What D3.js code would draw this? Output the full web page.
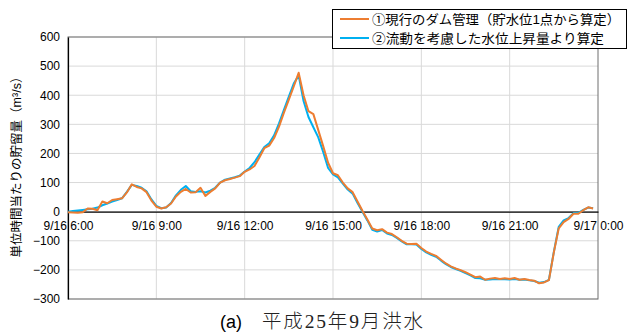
<!DOCTYPE html>
<html>
<head>
<meta charset="utf-8">
<script src="https://cdn.jsdelivr.net/npm/d3@7"></script>
<style>
  html, body { margin: 0; padding: 0; background: #fff; }
  svg { display: block; }
  text { font-family: "Liberation Sans", "Noto Sans CJK JP", sans-serif; }
</style>
</head>
<body>
<svg id="chart" width="628" height="335"></svg>
<script>
// Storage per unit time, 10-minute steps from 9/16 6:00
const startTime = new Date(2013, 8, 16, 6, 0);
const stepMinutes = 10;

// ① current dam operation (from a single reservoir level)
const seriesCurrent = [
  -2, -3, -4, -2, 11, 10, 5, 35, 29, 40, 43, 46, 66, 94, 85, 80, 67, 38,
  17, 11, 15, 28, 52, 68, 78, 66, 67, 82, 54, 68, 80, 100, 108, 112, 117, 122,
  137, 145, 157, 186, 218, 227, 253, 292, 340, 385, 430, 477, 400, 345, 335, 280, 225, 168,
  132, 125, 100, 80, 67, 35, 3, -27, -58, -64, -60, -72, -77, -88, -100, -110, -111, -110,
  -125, -137, -145, -152, -165, -178, -188, -195, -201, -208, -216, -225, -223, -234, -230, -228, -231, -229,
  -231, -228, -234, -231, -235, -237, -246, -243, -235, -140, -57, -36, -25, -7, -7, 5, 15, 11
];

// ② from the water-level rise accounting for flow
const seriesFlow = [
  0, 2, 4, 6, 8, 10, 14, 22, 28, 35, 40, 46, 68, 92, 88, 82, 70, 42,
  20, 12, 14, 30, 56, 75, 88, 70, 68, 70, 66, 72, 82, 100, 110, 114, 118, 124,
  138, 150, 170, 196, 222, 235, 262, 303, 350, 395, 440, 468, 380, 325, 290, 255, 205, 150,
  128, 118, 96, 76, 62, 30, 0, -30, -62, -68, -63, -75, -80, -90, -102, -112, -112, -113,
  -128, -140, -148, -155, -168, -180, -190, -197, -203, -211, -219, -228, -229, -234, -233, -231, -232, -232,
  -233, -231, -234, -233, -236, -238, -244, -242, -234, -138, -52, -30, -22, -5, -4, 6, 14, 12
];

const yTicks = [-300, -200, -100, 0, 100, 200, 300, 400, 500, 600];
const xTickHours = [6, 9, 12, 15, 18, 21, 24];
const legendLabels = ["①現行のダム管理（貯水位1点から算定）", "②流動を考慮した水位上昇量より算定"];
const yTitle = "単位時間当たりの貯留量（m³/s）";
const captionTag = "(a)";
const captionParts = ["平成", "25", "年", "9", "月洪水"];

const colors = ["#ED7D31", "#00B0F0"];

const svg = d3.select("#chart");
const plot = { left: 68, right: 598, top: 37, bottom: 299 };

const timeAt = i => new Date(startTime.getTime() + i * stepMinutes * 60000);
const tickTimes = xTickHours.map(h => new Date(2013, 8, 16, h, 0));

const x = d3.scaleTime()
  .domain([tickTimes[0], tickTimes[tickTimes.length - 1]])
  .range([plot.left, plot.right]);
const y = d3.scaleLinear().domain([-300, 600]).range([plot.bottom, plot.top]);

// gridlines
const grid = svg.append("g");
grid.selectAll("line.h").data(yTicks).join("line")
  .attr("x1", plot.left).attr("x2", plot.right)
  .attr("y1", d => y(d)).attr("y2", d => y(d))
  .attr("stroke", "#D9D9D9").attr("stroke-width", 1);
grid.selectAll("line.v").data(tickTimes.slice(1, -1)).join("line")
  .attr("x1", d => x(d)).attr("x2", d => x(d))
  .attr("y1", plot.top).attr("y2", plot.bottom)
  .attr("stroke", "#D9D9D9").attr("stroke-width", 1);

// plot frame
svg.append("rect")
  .attr("x", plot.left).attr("y", plot.top)
  .attr("width", plot.right - plot.left).attr("height", plot.bottom - plot.top)
  .attr("fill", "none").attr("stroke", "#6E6E6E").attr("stroke-width", 1);

// y axis
const yAxis = svg.append("g")
  .attr("transform", `translate(${plot.left},0)`)
  .call(d3.axisLeft(y).tickValues(yTicks).tickSize(0).tickPadding(8).tickFormat(d3.format("d")));
yAxis.select(".domain").attr("stroke", "#000").attr("stroke-width", 1.2);
yAxis.selectAll("text").attr("font-size", 12).attr("fill", "#000")
  .attr("font-family", "Liberation Sans, sans-serif");

// x axis on the zero line
const fmt = d => d.getHours() === 0
  ? `${d.getMonth() + 1}/${d.getDate()} 0:00`
  : `${d.getMonth() + 1}/${d.getDate()} ${d.getHours()}:00`;
const xAxis = svg.append("g")
  .attr("transform", `translate(0,${y(0)})`)
  .call(d3.axisBottom(x).tickValues(tickTimes).tickSize(0).tickPadding(10).tickFormat(fmt));
xAxis.select(".domain").attr("stroke", "#000").attr("stroke-width", 1.2);
xAxis.selectAll("text").attr("font-size", 12).attr("fill", "#000")
  .attr("font-family", "Liberation Sans, sans-serif");

// series lines
const line = d3.line().x((d, i) => x(timeAt(i))).y(d => y(d));
[seriesFlow, seriesCurrent].forEach((s, k) => {
  svg.append("path").datum(s)
    .attr("d", line)
    .attr("fill", "none")
    .attr("stroke", k === 0 ? colors[1] : colors[0])
    .attr("stroke-width", 2)
    .attr("stroke-linejoin", "round");
});

// y axis title
svg.append("text")
  .attr("transform", `translate(21,${(plot.top + plot.bottom) / 2 - 4}) rotate(-90)`)
  .attr("text-anchor", "middle")
  .attr("font-family", "Noto Sans CJK JP, sans-serif")
  .attr("font-size", 12.5)
  .attr("fill", "#000")
  .text(yTitle);

// legend
const lg = svg.append("g");
lg.append("rect")
  .attr("x", 332.5).attr("y", 9.5).attr("width", 294).attr("height", 39)
  .attr("fill", "#fff").attr("stroke", "#000").attr("stroke-width", 1);
const rowY = [19, 38];
const legendWidths = [248, 232];
legendLabels.forEach((t, i) => {
  lg.append("line")
    .attr("x1", 340).attr("x2", 369)
    .attr("y1", rowY[i]).attr("y2", rowY[i])
    .attr("stroke", colors[i]).attr("stroke-width", 2);
  lg.append("text")
    .attr("x", 372).attr("y", rowY[i] + 5)
    .attr("font-family", "Noto Sans CJK JP, sans-serif")
    .attr("font-size", 13)
    .attr("textLength", legendWidths[i])
    .attr("lengthAdjust", "spacingAndGlyphs")
    .attr("fill", "#000")
    .text(t);
});

// caption
svg.append("text")
  .attr("x", 220).attr("y", 328)
  .attr("font-family", "Liberation Sans, sans-serif")
  .attr("font-size", 18)
  .attr("fill", "#000")
  .text(captionTag);
const cap = svg.append("text")
  .attr("x", 262).attr("y", 328)
  .attr("font-size", 19.5)
  .attr("textLength", 161)
  .attr("lengthAdjust", "spacing")
  .attr("fill", "#222");
captionParts.forEach(p => {
  const isNum = /^[0-9]+$/.test(p);
  cap.append("tspan")
    .attr("font-family", isNum ? "Liberation Serif, serif" : "Noto Sans CJK JP, sans-serif")
    .attr("font-weight", isNum ? 400 : 300)
    .text(p);
});
</script>
</body>
</html>
